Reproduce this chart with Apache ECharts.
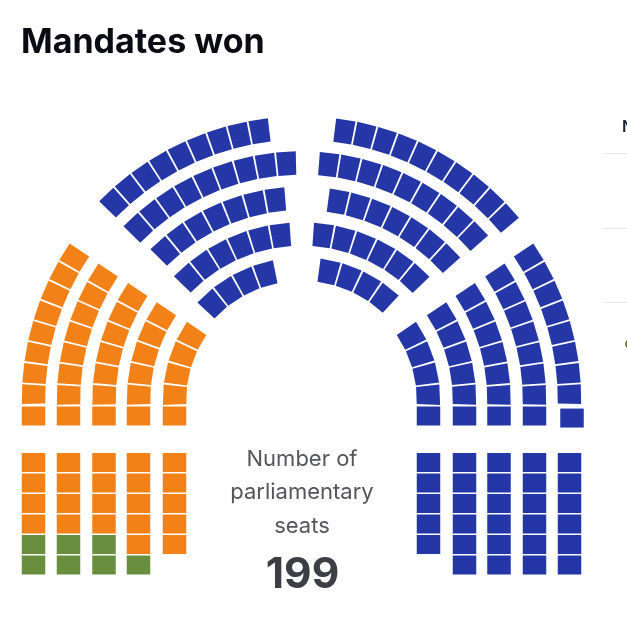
<!DOCTYPE html>
<html>
<head>
<meta charset="utf-8">
<style>
    html, body { margin: 0; padding: 0; background: #fff; }
    #chart { width: 627px; height: 627px; }
</style>
<script src="https://cdn.jsdelivr.net/npm/echarts@6/dist/echarts.min.js"></script>
</head>
<body>
<div id="chart"></div>
<script>
var titleText = 'Mandates won';
var centerLines = ['Number of', 'parliamentary', 'seats'];
var totalSeats = 199;

// seats per block, outer ring first
var leftArcSeats = [8, 7, 6, 5, 4];
var topLeftSeats = [9, 9, 7, 6, 4];
var topRightSeats = [10, 9, 7, 6, 4];
var rightArcSeats = [8, 7, 6, 5, 4];

// one flat seat per column at the foot of each side arc
var leftFootSeats = [1, 1, 1, 1, 1];
var rightFootSeats = [1, 1, 1, 1, 1];

// lower stacks, outer column first
var leftStackOrange = [4, 4, 4, 5, 5];
var leftStackGreen = [2, 2, 2, 1, 0];
var rightStackBlue = [6, 6, 6, 6, 5];

// ring radii and the polar angle of each ring's first seat
var sideRadii = [268, 233, 197.5, 163, 127];
var topRadii = [272, 237, 201.7, 166, 131];
var sideStart = [1.2, 1.2, 1.4, 1.75, 2.2];
var topLeftStart = [98.8, 93.6, 97.3, 97.1, 105.7];
var topRightStart = [81, 83.5, 79.7, 82.7, 78.2];

var ORANGE = '#f28118';
var GREEN = '#688e3e';
var BLUE = '#2537a6';

var cx = 301.5, cy = 400;
var seatArc = 20.6, seatHalfArc = 9.4, seatHalfDepth = 11.7;
var stackTop = 462.5, rowStep = 20.5, footRow = (416 - stackTop) / rowStep;

var ring = function (radii, starts, counts, dir, mirror) {
    var res = [];
    for (var i = 0; i < counts.length; i++) {
        var step = seatArc / radii[i] * 180 / Math.PI;
        for (var j = 0; j < counts[i]; j++) {
            var a = starts[i] + dir * j * step;
            res.push([radii[i], mirror ? 180 - a : a]);
        }
    }
    return res;
};

var stack = function (counts, side, skip) {
    var res = [];
    for (var i = 0; i < counts.length; i++) {
        var from = skip ? skip[i] : 0;
        for (var j = 0; j < counts[i]; j++) {
            res.push([side * sideRadii[i], from + j]);
        }
    }
    return res;
};

var foot = function (counts, side) {
    var res = [];
    for (var i = 0; i < counts.length; i++) {
        if (counts[i]) res.push([side * sideRadii[i], footRow]);
    }
    return res;
};

var arcSeries = function (name, color, data) {
    return {
        name: name,
        type: 'custom',
        coordinateSystem: 'polar',
        clip: false,
        data: data,
        renderItem: function (params, api) {
            var r = api.value(0), a = api.value(1);
            var half = seatHalfArc / r * 180 / Math.PI;
            return {
                type: 'polygon',
                shape: {
                    points: [
                        api.coord([r - seatHalfDepth, a - half]),
                        api.coord([r + seatHalfDepth, a - half]),
                        api.coord([r + seatHalfDepth, a + half]),
                        api.coord([r - seatHalfDepth, a + half])
                    ]
                },
                style: { fill: color }
            };
        }
    };
};

var flatSeries = function (name, color, data) {
    return {
        name: name,
        type: 'scatter',
        symbol: 'rect',
        symbolSize: [23.5, 19],
        itemStyle: { color: color, opacity: 1 },
        data: data
    };
};

var rightFoot = foot(rightFootSeats, 1);
// the outermost right foot seat sits slightly out of line in the source
rightFoot[0] = [rightFoot[0][0] + 2.5, rightFoot[0][1] + 0.1];

var centerTitles = centerLines.map(function (line, i) {
    return {
        text: line,
        left: 297,
        top: 443.5 + i * 33.3,
        textAlign: 'center',
        textStyle: { fontFamily: 'Inter', fontSize: 22, fontWeight: 400, color: '#55565c' }
    };
});

var chart = echarts.init(document.getElementById('chart'));
chart.setOption({
    animation: false,
    backgroundColor: '#fff',
    title: [{
        text: titleText,
        left: 16,
        top: 21,
        textStyle: { fontFamily: 'Inter', fontSize: 34, fontWeight: 700, color: '#0b0b14' }
    }].concat(centerTitles, [{
        text: String(totalSeats),
        left: 297.5,
        top: 549,
        textAlign: 'center',
        textStyle: { fontFamily: 'Inter', fontSize: 42.5, fontWeight: 700, color: '#3c3d45' }
    }]),
    grid: { left: 0, top: 0, width: 627, height: 627 },
    xAxis: { type: 'value', min: -cx, max: 627 - cx, show: false },
    yAxis: {
        type: 'value',
        inverse: true,
        min: -stackTop / rowStep,
        max: (627 - stackTop) / rowStep,
        show: false
    },
    polar: { center: [cx, cy], radius: 300 },
    radiusAxis: { min: 0, max: 300, show: false },
    angleAxis: { min: 0, max: 360, startAngle: 0, clockwise: false, show: false },
    series: [
        arcSeries('Orange arc', ORANGE, ring(sideRadii, sideStart, leftArcSeats, 1, true)),
        arcSeries('Blue top left', BLUE, ring(topRadii, topLeftStart, topLeftSeats, 1, false)),
        arcSeries('Blue top right', BLUE, ring(topRadii, topRightStart, topRightSeats, -1, false)),
        arcSeries('Blue arc', BLUE, ring(sideRadii, sideStart, rightArcSeats, 1, false)),
        flatSeries('Orange foot', ORANGE, foot(leftFootSeats, -1)),
        flatSeries('Blue foot', BLUE, rightFoot),
        flatSeries('Orange stack', ORANGE, stack(leftStackOrange, -1)),
        flatSeries('Green stack', GREEN, stack(leftStackGreen, -1, leftStackOrange)),
        flatSeries('Blue stack', BLUE, stack(rightStackBlue, 1))
    ],
    graphic: [
        // edge of the neighbouring table, cut off by the crop
        { type: 'text', x: 622, y: 119, style: { text: 'N', font: '600 16px Inter', fill: '#1b2430' } },
        { type: 'line', shape: { x1: 603, y1: 153.5, x2: 627, y2: 153.5 }, style: { stroke: '#e6e6e6', lineWidth: 1 } },
        { type: 'line', shape: { x1: 603, y1: 228.5, x2: 627, y2: 228.5 }, style: { stroke: '#e6e6e6', lineWidth: 1 } },
        { type: 'line', shape: { x1: 603, y1: 302.5, x2: 627, y2: 302.5 }, style: { stroke: '#e6e6e6', lineWidth: 1 } },
        { type: 'circle', shape: { cx: 630, cy: 344, r: 5 }, style: { fill: GREEN } }
    ]
});
</script>
</body>
</html>
